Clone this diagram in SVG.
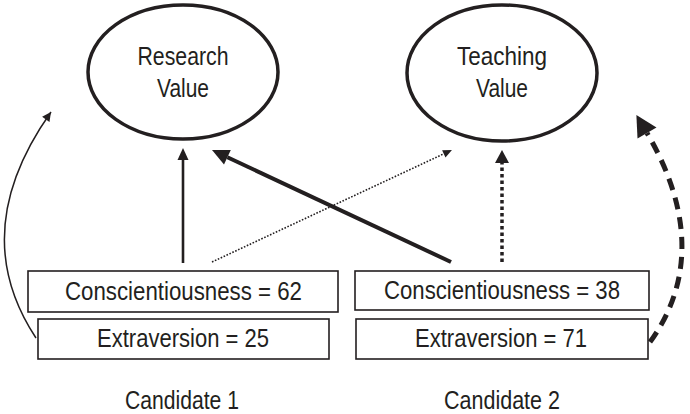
<svg xmlns="http://www.w3.org/2000/svg" width="690" height="414" viewBox="0 0 690 414">
<style>
  .ell { fill: #fff; stroke: #231f20; stroke-width: 3.5; }
  .box { fill: #fff; stroke: #231f20; stroke-width: 1.6; }
  text { font-family: "Liberation Sans", Arial, sans-serif; font-size: 25px; fill: #231f20; text-anchor: middle; }
  .c { fill: none; stroke: #231f20; }
</style>
<defs>
  <marker id="hSolid" markerUnits="userSpaceOnUse" orient="auto" refX="0" refY="0" markerWidth="20" markerHeight="20" overflow="visible">
    <path d="M0,-5.5 L12,0 L0,5.5 Z" fill="#231f20"/>
  </marker>
  <marker id="hThick" markerUnits="userSpaceOnUse" orient="auto" refX="0" refY="0" markerWidth="24" markerHeight="24" overflow="visible">
    <path d="M0,-8 L17,0 L0,8 Z" fill="#231f20"/>
  </marker>
  <marker id="hSmall" markerUnits="userSpaceOnUse" orient="auto" refX="0" refY="0" markerWidth="14" markerHeight="14" overflow="visible">
    <path d="M0,-4 L9,0 L0,4 Z" fill="#231f20"/>
  </marker>
  <marker id="hDot" markerUnits="userSpaceOnUse" orient="auto" refX="0" refY="0" markerWidth="20" markerHeight="20" overflow="visible">
    <path d="M0,-7 L13,0 L0,7 Z" fill="#231f20"/>
  </marker>
  <marker id="hThin" markerUnits="userSpaceOnUse" orient="auto" refX="9" refY="0" markerWidth="14" markerHeight="14" overflow="visible">
    <path d="M0,-4.5 L9,0 L0,4.5 Z" fill="#231f20"/>
  </marker>
  <marker id="hDash" markerUnits="userSpaceOnUse" orient="auto" refX="0" refY="0" markerWidth="30" markerHeight="30" overflow="visible">
    <path d="M0,-11 L21,0 L0,11 Z" fill="#231f20"/>
  </marker>
</defs>

<g id="research">
  <ellipse class="ell" cx="183" cy="72" rx="95" ry="67"/>
  <text x="183" y="65" textLength="91" lengthAdjust="spacingAndGlyphs">Research</text>
  <text x="183" y="97" textLength="52" lengthAdjust="spacingAndGlyphs">Value</text>
</g>
<g id="teaching">
  <ellipse class="ell" cx="502" cy="73" rx="95" ry="68"/>
  <text x="502" y="65" textLength="90" lengthAdjust="spacingAndGlyphs">Teaching</text>
  <text x="502" y="97" textLength="52" lengthAdjust="spacingAndGlyphs">Value</text>
</g>
<g id="c1-consc">
  <rect class="box" x="28" y="271" width="310" height="41"/>
  <text x="183.5" y="300" textLength="237" lengthAdjust="spacingAndGlyphs">Conscientiousness = 62</text>
</g>
<g id="c1-extra">
  <rect class="box" x="38" y="319" width="291" height="40"/>
  <text x="183" y="347" textLength="172" lengthAdjust="spacingAndGlyphs">Extraversion = 25</text>
</g>
<g id="c2-consc">
  <rect class="box" x="355" y="271" width="294" height="39"/>
  <text x="502" y="299" textLength="236" lengthAdjust="spacingAndGlyphs">Conscientiousness = 38</text>
</g>
<g id="c2-extra">
  <rect class="box" x="356" y="319" width="292" height="40"/>
  <text x="501" y="347" textLength="172" lengthAdjust="spacingAndGlyphs">Extraversion = 71</text>
</g>
<g id="label1">
  <text x="182" y="409" textLength="114" lengthAdjust="spacingAndGlyphs">Candidate 1</text>
</g>
<g id="label2">
  <text x="502" y="409" textLength="116" lengthAdjust="spacingAndGlyphs">Candidate 2</text>
</g>

<g id="connectors">
  <line class="c" x1="183" y1="263" x2="183" y2="160" stroke-width="2.6" marker-end="url(#hSolid)"/>
  <line class="c" x1="451" y1="262" x2="227.4" y2="157.2" stroke-width="4" marker-end="url(#hThick)"/>
  <line class="c" x1="212" y1="262" x2="443.8" y2="153.8" stroke-width="1.6" stroke-dasharray="1.6 1.6" marker-end="url(#hSmall)"/>
  <line class="c" x1="502" y1="262" x2="502" y2="163" stroke-width="3.5" stroke-dasharray="3.5 3" marker-end="url(#hDot)"/>
  <path class="c" d="M36,338 Q-34,232 51,112" stroke-width="1.5" marker-end="url(#hThin)"/>
  <path class="c" d="M650,342 C688,290 698,220 647,133" stroke-width="5" stroke-dasharray="12 8" marker-end="url(#hDash)"/>
</g>
</svg>
